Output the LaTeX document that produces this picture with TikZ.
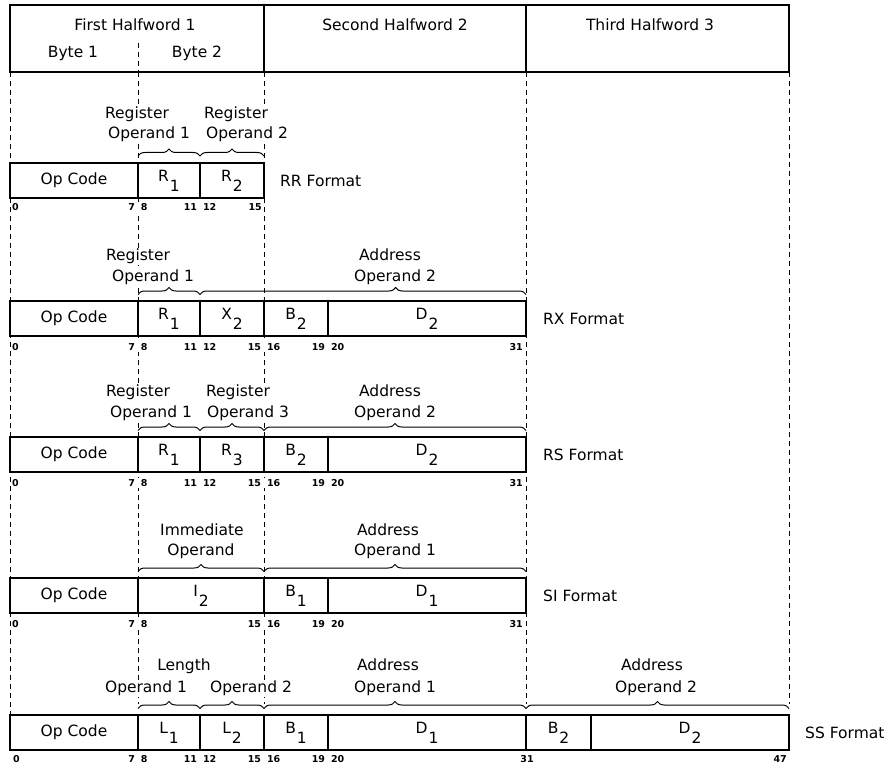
\documentclass[tikz,border=0pt]{standalone}
\usepackage{fontspec}
\setmainfont{DejaVu Sans}
\usetikzlibrary{positioning,decorations.pathreplacing}

% field name with a lowered index
\newcommand\fsub[2]{#1\kern1pt\raisebox{-10pt}{#2}}

\begin{document}
\begin{tikzpicture}[x=1pt, y=-1pt,
    box/.style={draw, line width=1.4pt, fill=white, inner sep=0pt, outer sep=0pt,
                anchor=north west, minimum height=35pt, font=\fontsize{15.5}{16}\selectfont},
    hbox/.style={draw, line width=1.4pt, inner sep=0pt, outer sep=0pt,
                 anchor=north west, minimum height=67pt},
    lbl/.style={fill=white, inner sep=1pt, anchor=base, font=\fontsize{15.5}{16}\selectfont},
    fmt/.style={anchor=west, inner sep=0pt, font=\fontsize{15.5}{16}\selectfont},
    bits/.style={fill=white, inner sep=1pt, font=\fontsize{9.5}{9.5}\selectfont\bfseries},
    guide/.style={line width=0.9pt, dash pattern=on 5pt off 4pt},
    brc/.style={decorate, decoration={brace, amplitude=7pt}, line width=1pt}]

    \useasboundingbox (0,0) rectangle (884,765);

    % 1. Dashed guide lines (drawn first, boxes and labels go on top)
    \draw[guide] (138,43) -- (138,72);
    \foreach \x/\y in {10/715, 138/704, 264/704, 526/704, 789/704}
        \draw[guide] (\x,72) -- (\x,\y);

    % 2. Halfword header
    \node[hbox, minimum width=254pt] (hw1) at (10,5) {};
    \node[hbox, minimum width=262pt, right=0pt of hw1] (hw2) {};
    \node[hbox, minimum width=263pt, right=0pt of hw2] (hw3) {};
    \node[lbl, fill=none] (hw1-t) at (135,30.5) {First Halfword 1};
    \node[lbl, fill=none] (hw2-t) at (395,30.5) {Second Halfword 2};
    \node[lbl, fill=none] (hw3-t) at (650,30.5) {Third Halfword 3};
    \node[lbl, fill=none] (by1-t) at (73,57.5) {Byte 1};
    \node[lbl, fill=none] (by2-t) at (197,57.5) {Byte 2};

    % 3. RR format
    \node[box, minimum width=128pt] (rr-op) at (10,163) {Op Code};
    \node[box, minimum width=62pt, right=0pt of rr-op] (rr-r1) {\fsub{R}{1}};
    \node[box, minimum width=64pt, right=0pt of rr-r1] (rr-r2) {\fsub{R}{2}};
    \node[fmt] (rr-f) at (280,181) {RR Format};
    \draw[brc] ([yshift=7pt]rr-r1.north west) -- ([yshift=7pt]rr-r1.north east);
    \draw[brc] ([yshift=7pt]rr-r2.north west) -- ([yshift=7pt]rr-r2.north east);
    \node[lbl] (rr-t1) at (137,118.5) {Register};
    \node[lbl] (rr-t2) at (149,138.5) {Operand 1};
    \node[lbl] (rr-t3) at (236,118.5) {Register};
    \node[lbl] (rr-t4) at (247,138.5) {Operand 2};
    \node[bits, anchor=west] (rr-b0) at (11,207) {0};
    \foreach \x/\a/\b in {138/7/8, 200/11/12}
        \node[bits] (rr-b\a) at (\x,207) {\a\hspace{6pt}\b};
    \node[bits, anchor=east] (rr-b15) at (263,207) {15};

    % 4. RX format
    \node[box, minimum width=128pt] (rx-op) at (10,301) {Op Code};
    \node[box, minimum width=62pt, right=0pt of rx-op] (rx-r1) {\fsub{R}{1}};
    \node[box, minimum width=64pt, right=0pt of rx-r1] (rx-x2) {\fsub{X}{2}};
    \node[box, minimum width=64pt, right=0pt of rx-x2] (rx-b2) {\fsub{B}{2}};
    \node[box, minimum width=198pt, right=0pt of rx-b2] (rx-d2) {\fsub{D}{2}};
    \node[fmt] (rx-f) at (543,319) {RX Format};
    \draw[brc] ([yshift=6.5pt]rx-r1.north west) -- ([yshift=6.5pt]rx-r1.north east);
    \draw[brc, decoration={aspect=0.6}] ([yshift=6.5pt]rx-x2.north west) -- ([yshift=6.5pt]rx-d2.north east);
    \node[lbl] (rx-t1) at (138,260.5) {Register};
    \node[lbl] (rx-t2) at (153,281.5) {Operand 1};
    \node[lbl] (rx-t3) at (390,260.5) {Address};
    \node[lbl] (rx-t4) at (395,281.5) {Operand 2};
    \node[bits, anchor=west] (rx-b0) at (11,347) {0};
    \foreach \x/\a/\b in {138/7/8, 200/11/12, 264/15/16, 328/19/20}
        \node[bits] (rx-b\a) at (\x,347) {\a\hspace{6pt}\b};
    \node[bits, anchor=east] (rx-b31) at (524,347) {31};

    % 5. RS format
    \node[box, minimum width=128pt] (rs-op) at (10,437) {Op Code};
    \node[box, minimum width=62pt, right=0pt of rs-op] (rs-r1) {\fsub{R}{1}};
    \node[box, minimum width=64pt, right=0pt of rs-r1] (rs-r3) {\fsub{R}{3}};
    \node[box, minimum width=64pt, right=0pt of rs-r3] (rs-b2) {\fsub{B}{2}};
    \node[box, minimum width=198pt, right=0pt of rs-b2] (rs-d2) {\fsub{D}{2}};
    \node[fmt] (rs-f) at (543,455) {RS Format};
    \draw[brc] ([yshift=6.5pt]rs-r1.north west) -- ([yshift=6.5pt]rs-r1.north east);
    \draw[brc] ([yshift=6.5pt]rs-r3.north west) -- ([yshift=6.5pt]rs-r3.north east);
    \draw[brc] ([yshift=6.5pt]rs-b2.north west) -- ([yshift=6.5pt]rs-d2.north east);
    \node[lbl] (rs-t1) at (138,396.5) {Register};
    \node[lbl] (rs-t2) at (151,417.5) {Operand 1};
    \node[lbl] (rs-t3) at (238,396.5) {Register};
    \node[lbl] (rs-t4) at (248,417.5) {Operand 3};
    \node[lbl] (rs-t5) at (390,396.5) {Address};
    \node[lbl] (rs-t6) at (395,417.5) {Operand 2};
    \node[bits, anchor=west] (rs-b0) at (11,483) {0};
    \foreach \x/\a/\b in {138/7/8, 200/11/12, 264/15/16, 328/19/20}
        \node[bits] (rs-b\a) at (\x,483) {\a\hspace{6pt}\b};
    \node[bits, anchor=east] (rs-b31) at (524,483) {31};

    % 6. SI format
    \node[box, minimum width=128pt] (si-op) at (10,578) {Op Code};
    \node[box, minimum width=126pt, right=0pt of si-op] (si-i2) {\fsub{I}{2}};
    \node[box, minimum width=64pt, right=0pt of si-i2] (si-b1) {\fsub{B}{1}};
    \node[box, minimum width=198pt, right=0pt of si-b1] (si-d1) {\fsub{D}{1}};
    \node[fmt] (si-f) at (543,596) {SI Format};
    \draw[brc] ([yshift=6.5pt]si-i2.north west) -- ([yshift=6.5pt]si-i2.north east);
    \draw[brc] ([yshift=6.5pt]si-b1.north west) -- ([yshift=6.5pt]si-d1.north east);
    \node[lbl] (si-t1) at (202,535.5) {Immediate};
    \node[lbl] (si-t2) at (201,555.5) {Operand};
    \node[lbl] (si-t3) at (388,535.5) {Address};
    \node[lbl] (si-t4) at (395,555.5) {Operand 1};
    \node[bits, anchor=west] (si-b0) at (11,624) {0};
    \foreach \x/\a/\b in {138/7/8, 264/15/16, 328/19/20}
        \node[bits] (si-b\a) at (\x,624) {\a\hspace{6pt}\b};
    \node[bits, anchor=east] (si-b31) at (524,624) {31};

    % 7. SS format
    \node[box, minimum width=128pt] (ss-op) at (10,715) {Op Code};
    \node[box, minimum width=62pt, right=0pt of ss-op] (ss-l1) {\fsub{L}{1}};
    \node[box, minimum width=64pt, right=0pt of ss-l1] (ss-l2) {\fsub{L}{2}};
    \node[box, minimum width=64pt, right=0pt of ss-l2] (ss-b1) {\fsub{B}{1}};
    \node[box, minimum width=198pt, right=0pt of ss-b1] (ss-d1) {\fsub{D}{1}};
    \node[box, minimum width=65pt, right=0pt of ss-d1] (ss-b2) {\fsub{B}{2}};
    \node[box, minimum width=198pt, right=0pt of ss-b2] (ss-d2) {\fsub{D}{2}};
    \node[fmt] (ss-f) at (805,733) {SS Format};
    \draw[brc] ([yshift=6.5pt]ss-l1.north west) -- ([yshift=6.5pt]ss-l1.north east);
    \draw[brc] ([yshift=6.5pt]ss-l2.north west) -- ([yshift=6.5pt]ss-l2.north east);
    \draw[brc] ([yshift=6.5pt]ss-b1.north west) -- ([yshift=6.5pt]ss-d1.north east);
    \draw[brc] ([yshift=6.5pt]ss-b2.north west) -- ([yshift=6.5pt]ss-d2.north east);
    \node[lbl] (ss-t1) at (184,670.5) {Length};
    \node[lbl] (ss-t2) at (146,692.5) {Operand 1};
    \node[lbl] (ss-t3) at (251,692.5) {Operand 2};
    \node[lbl] (ss-t4) at (388,670.5) {Address};
    \node[lbl] (ss-t5) at (395,692.5) {Operand 1};
    \node[lbl] (ss-t6) at (652,670.5) {Address};
    \node[lbl] (ss-t7) at (656,692.5) {Operand 2};
    \node[bits, anchor=west] (ss-b0) at (12,759) {0};
    \foreach \x/\a/\b in {138/7/8, 200/11/12, 264/15/16, 328/19/20}
        \node[bits] (ss-b\a) at (\x,759) {\a\hspace{6pt}\b};
    \node[bits] (ss-b31) at (527,759) {31};
    \node[bits, anchor=east] (ss-b47) at (788,759) {47};
\end{tikzpicture}
\end{document}
